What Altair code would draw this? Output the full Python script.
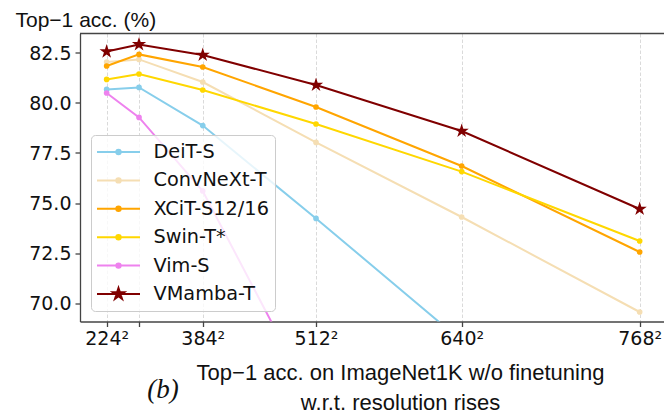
import altair as alt
import pandas as pd

# ---- data ----
models = ["DeiT-S", "ConvNeXt-T", "XCiT-S12/16", "Swin-T*", "Vim-S", "VMamba-T"]
colors = ["#87CEEB", "#F5DEB3", "#FFA500", "#FFD700", "#EE82EE", "#800000"]
resolutions = [224, 288, 384, 512, 640, 768]
res_labels = ["224²", "", "384²", "512²", "640²", "768²"]
deit = [80.68, 80.78, 78.87, 74.23, 68.1, None]
convnext = [82.05, 82.18, 81.05, 78.03, 74.3, 69.55]
xcit = [81.85, 82.43, 81.8, 79.8, 76.85, 72.55]
swin = [81.18, 81.45, 80.65, 78.95, 76.57, 73.1]
vim = [80.5, 79.28, 75.6, 64.8, None, None]
vmamba = [82.57, 82.93, 82.4, 80.9, 78.6, 74.7]
y_ticks = [70.0, 72.5, 75.0, 77.5, 80.0, 82.5]

series = [deit, convnext, xcit, swin, vim, vmamba]
rows = []
for m, c, vals in zip(models, colors, series):
    for r, v in zip(resolutions, vals):
        if v is not None:
            rows.append({"model": m, "hex": c, "res": r, "px": r * r, "acc": v})
df = pd.DataFrame(rows)

# ---- marker shapes (SVG paths) ----
STAR_UNIT = [(0, -1), (0.2245, -0.309), (0.9511, -0.309), (0.3633, 0.118), (0.5878, 0.809),
             (0, 0.382), (-0.5878, 0.809), (-0.3633, 0.118), (-0.9511, -0.309), (-0.2245, -0.309)]


def star(scale):
    pts = [f"{x * scale:.4f},{y * scale:.4f}" for x, y in STAR_UNIT]
    return "M" + "L".join(pts) + "Z"


star_path = star(1.0)
# legend symbols: size 400 -> 10 px per unit; line segment 43 px long
legend_circle = "M-2.15,0L2.15,0M0.22,0A0.22,0.22,0,1,1,-0.22,0A0.22,0.22,0,1,1,0.22,0Z"
legend_star = "M-2.15,0L2.15,0" + star(0.6)
legend_shapes = [legend_circle] * 5 + [legend_star]

x_scale = alt.Scale(type="linear", domain=[23194, 614466], nice=False, zero=False)
y_scale = alt.Scale(domain=[69.075, 83.475], nice=False, zero=False)
color_scale = alt.Scale(domain=models, range=colors)

label_expr = " : ".join(
    f"datum.value == {r * r} ? '{lab}'" for r, lab in zip(resolutions, res_labels)
) + " : ''"

AX = "#444444"
TXT = "#111111"

x_axis = alt.Axis(
    orient="bottom", values=[r * r for r in resolutions], labelExpr=label_expr,
    grid=True, gridColor="#dadada", gridDash=[3.5, 2], gridWidth=1,
    domainColor=AX, domainWidth=1.3, tickColor=AX, tickWidth=1.3, tickSize=5,
    labelFont="DejaVu Sans", labelFontSize=19, labelColor=TXT, labelPadding=3,
    labelFlush=False, labelOverlap=False,
    title=["Top\u22121 acc. on ImageNet1K w/o finetuning", "w.r.t. resolution rises"],
    titleFont="Liberation Sans", titleFontSize=22, titleFontWeight="normal",
    titleColor=TXT, titleX=320, titleY=58, titleAlign="center",
    titleBaseline="alphabetic", titleLineHeight=30,
)
y_axis = alt.Axis(
    values=y_ticks, format=".1f", grid=False,
    domainColor=AX, domainWidth=1.3, tickColor=AX, tickWidth=1.3, tickSize=5,
    labelFont="DejaVu Sans", labelFontSize=19, labelColor=TXT, labelPadding=4,
    title="Top\u22121 acc. (%)", titleAngle=0, titleX=-65, titleY=-7.5,
    titleAlign="left", titleBaseline="alphabetic", titleFont="Liberation Sans",
    titleFontSize=21, titleFontWeight="normal", titleColor=TXT,
)

leg = alt.Legend(
    title=None, orient="none", legendX=11, legendY=101.5,
    symbolSize=400, symbolStrokeWidth=2, symbolOpacity=1, symbolOffset=10.5,
    labelFont="DejaVu Sans", labelFontSize=19.3, labelColor=TXT, labelOffset=24,
    labelLimit=300, padding=6, rowPadding=6.4,
    strokeColor="#cccccc", cornerRadius=4, fillColor="rgba(255,255,255,0.8)",
)

X = alt.X("px:Q", scale=x_scale, axis=x_axis)
Y = alt.Y("acc:Q", scale=y_scale, axis=y_axis)
C = alt.Color("hex:N", scale=None)

base = alt.Chart(df)

lines = base.mark_line(strokeWidth=2, clip=True).encode(
    x=X, y=Y, color=C, detail="model:N"
)

circles = base.transform_filter(alt.datum.model != "VMamba-T").mark_point(
    filled=True, size=32, opacity=1, strokeWidth=0, clip=True
).encode(x=X, y=Y, color=C)

stars = base.transform_filter(alt.datum.model == "VMamba-T").mark_point(
    filled=True, size=225, opacity=1, shape=star_path, clip=True
).encode(x=X, y=Y, color=C)

# legend-only layer: its marks are pushed outside the clipped plot area
legend_layer = base.transform_calculate(hidden="datum.acc - 1000").mark_point(
    filled=True, opacity=1, strokeWidth=2, size=400, clip=True
).encode(
    x=X,
    y=alt.Y("hidden:Q", scale=y_scale, axis=y_axis),
    fill=alt.Fill("model:N", scale=color_scale, legend=leg),
    stroke=alt.Stroke("model:N", scale=color_scale, legend=leg),
    shape=alt.Shape("model:N", scale=alt.Scale(domain=models, range=legend_shapes), legend=leg),
)

# top spine of the frame
top_spine = alt.Chart(pd.DataFrame({"a": [0]})).mark_rule(
    color=AX, strokeWidth=1.3
).encode(x=alt.value(0), x2=alt.value(584), y=alt.value(0))

b_text = alt.Chart(pd.DataFrame({"t": ["(b)"]})).mark_text(
    font="Liberation Serif", fontStyle="italic", fontSize=27,
    align="center", baseline="alphabetic", color=TXT,
).encode(text="t:N", x=alt.value(83), y=alt.value(364))

chart = alt.layer(lines, circles, stars, legend_layer, top_spine, b_text).properties(
    width=584, height=288,
    padding={"left": 80, "top": 33.5, "right": 0, "bottom": 95.5},
    autosize=alt.AutoSizeParams(type="none"),
    background="white",
).configure_view(stroke=None)

chart.save("out.html", embed_options={"renderer": "svg", "actions": False})
